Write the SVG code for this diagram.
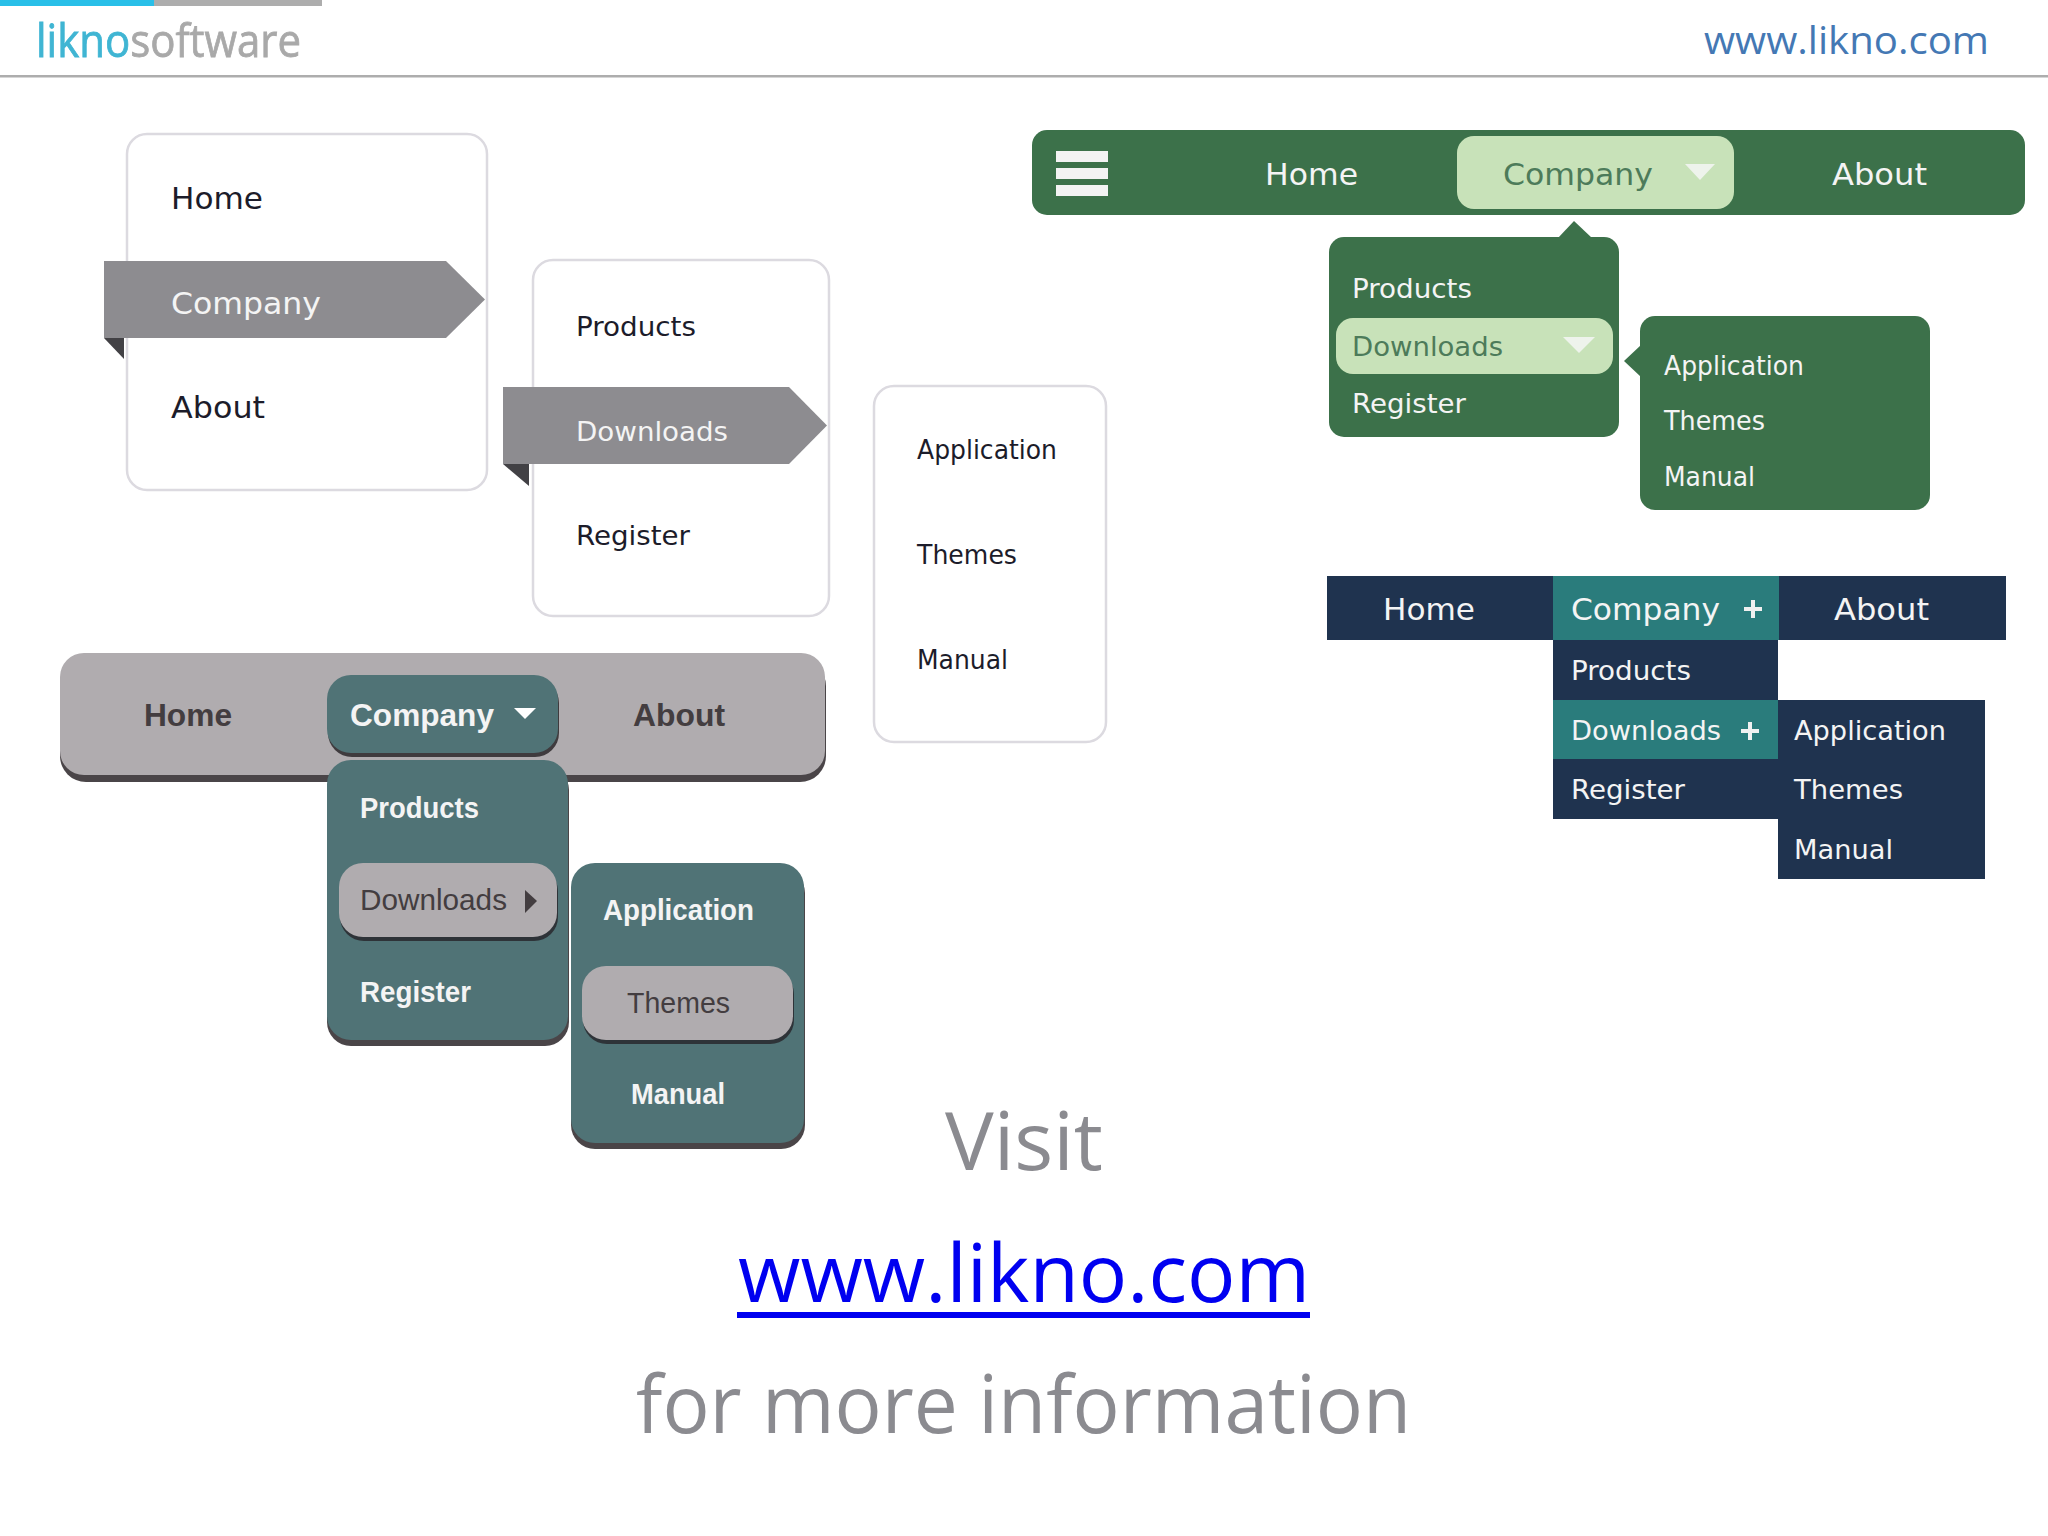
<svg xmlns="http://www.w3.org/2000/svg" width="2048" height="1536" viewBox="0 0 2048 1536">
<defs>
<style>
text{font-family:"DejaVu Sans",Verdana,sans-serif;font-size:30px}
.dk{fill:#1c1c2a}
.w{fill:#f4f4f4}
.s{font-size:27px}
.b{font-family:"Liberation Sans",Arial,sans-serif;font-weight:bold;font-size:32px}
.b2{font-family:"Liberation Sans",Arial,sans-serif;font-weight:bold;font-size:30px}
.g{fill:#433d40}
.gr{fill:#4d7b5a}
.card{fill:#fff;stroke:#dcdae0;stroke-width:2.5}
.big{font-family:"Open Sans","Noto Sans",sans-serif;font-size:80px;fill:#8b8b90}
</style>
<filter id="soft" x="-5%" y="-5%" width="110%" height="110%"><feGaussianBlur stdDeviation="0.6"/></filter>
</defs>
<rect width="2048" height="1536" fill="#fff"/>

<g id="header">
<rect x="0" y="0" width="322" height="6" fill="#adadad"/>
<rect x="0" y="0" width="154" height="6" fill="#29bfe8"/>
<rect x="0" y="75" width="2048" height="2.500" fill="#adadad"/>
<text x="36" y="57" style="font-family:'Open Sans','Noto Sans',sans-serif;font-size:46px;stroke-width:.8" textLength="265" lengthAdjust="spacingAndGlyphs" filter="url(#soft)"><tspan fill="#3fb5d3" stroke="#3fb5d3">likno</tspan><tspan fill="#a9a9a9" stroke="#a9a9a9">software</tspan></text>
<text x="1704" y="54" style="font-family:'Open Sans','Noto Sans',sans-serif;font-size:39px" fill="#4478b4" textLength="285" lengthAdjust="spacingAndGlyphs">www.likno.com</text>
</g>

<g id="menu-white-1">
<rect class="card" x="127" y="134" width="360" height="356" rx="20"/>
<text class="dk" x="171" y="209" textLength="92" lengthAdjust="spacingAndGlyphs">Home</text>
<polygon points="104,261 446,261 485,299.500 446,338 104,338" fill="#8d8c90"/>
<polygon points="104,338 124,338 124,359" fill="#424145"/>
<text class="w" x="171" y="314" textLength="150" lengthAdjust="spacingAndGlyphs">Company</text>
<text class="dk" x="171" y="418" textLength="94" lengthAdjust="spacingAndGlyphs">About</text>
</g>
<g id="menu-white-2">
<rect class="card" x="533" y="260" width="296" height="356" rx="20"/>
<text class="dk s" x="576" y="336" textLength="120" lengthAdjust="spacingAndGlyphs">Products</text>
<polygon points="503,387 789,387 827,425.500 789,464 503,464" fill="#8d8c90"/>
<polygon points="503,464 529,464 529,486" fill="#424145"/>
<text class="w s" x="576" y="441" textLength="152" lengthAdjust="spacingAndGlyphs">Downloads</text>
<text class="dk s" x="576" y="545" textLength="114" lengthAdjust="spacingAndGlyphs">Register</text>
</g>
<g id="menu-white-3">
<rect class="card" x="874" y="386" width="232" height="356" rx="20"/>
<text class="dk s" x="917" y="459" textLength="140" lengthAdjust="spacingAndGlyphs">Application</text>
<text class="dk s" x="917" y="564" textLength="100" lengthAdjust="spacingAndGlyphs">Themes</text>
<text class="dk s" x="917" y="669" textLength="91" lengthAdjust="spacingAndGlyphs">Manual</text>
</g>

<g id="menu-gray-bar">
<rect x="60" y="660" width="766" height="122" rx="26" fill="#4a4548"/>
<rect x="60" y="653" width="765" height="122" rx="24" fill="#b0acaf"/>
<text class="b g" x="144" y="726" textLength="88" lengthAdjust="spacingAndGlyphs">Home</text>
<rect x="328" y="679" width="231" height="78" rx="24" fill="#3f3b3e"/>
<rect x="327" y="675" width="231" height="78" rx="24" fill="#507376"/>
<text class="b w" x="350" y="726" textLength="144" lengthAdjust="spacingAndGlyphs">Company</text>
<polygon points="514,708 536,708 525,719" fill="#fff"/>
<text class="b g" x="633" y="726" textLength="92" lengthAdjust="spacingAndGlyphs">About</text>
</g>
<g id="menu-gray-2">
<rect x="327" y="766" width="242" height="280" rx="24" fill="#4a4548"/>
<rect x="327" y="760" width="241" height="280" rx="24" fill="#507376"/>
<text class="b2 w" x="360" y="818" textLength="119" lengthAdjust="spacingAndGlyphs">Products</text>
<rect x="340" y="867" width="218" height="74" rx="24" fill="#2e3338"/>
<rect x="339" y="863" width="218" height="74" rx="24" fill="#b0acaf"/>
<text class="b2 g" x="360" y="910" textLength="147" style="font-weight:normal" lengthAdjust="spacingAndGlyphs">Downloads</text>
<polygon points="525,890 537,901 525,913" fill="#433d40"/>
<text class="b2 w" x="360" y="1002" textLength="111" lengthAdjust="spacingAndGlyphs">Register</text>
</g>
<g id="menu-gray-3">
<rect x="571" y="869" width="234" height="280" rx="24" fill="#4a4548"/>
<rect x="571" y="863" width="233" height="280" rx="24" fill="#507376"/>
<text class="b2 w" x="603" y="920" textLength="151" lengthAdjust="spacingAndGlyphs">Application</text>
<rect x="583" y="970" width="211" height="74" rx="24" fill="#2e3338"/>
<rect x="582" y="966" width="211" height="74" rx="24" fill="#b0acaf"/>
<text class="b2 g" x="627" y="1013" textLength="103" style="font-weight:normal" lengthAdjust="spacingAndGlyphs">Themes</text>
<text class="b2 w" x="631" y="1104" textLength="94" lengthAdjust="spacingAndGlyphs">Manual</text>
</g>

<g id="menu-green-bar">
<rect x="1032" y="130" width="993" height="85" rx="15" fill="#3c714a"/>
<g fill="#f3f3f3"><rect x="1056" y="151" width="52" height="11"/><rect x="1056" y="168" width="52" height="11"/><rect x="1056" y="185" width="52" height="11"/></g>
<text class="w" x="1265" y="185" textLength="93" lengthAdjust="spacingAndGlyphs">Home</text>
<rect x="1457" y="136" width="277" height="73" rx="17" fill="#c8e2b9"/>
<text class="gr" x="1503" y="185" textLength="150" lengthAdjust="spacingAndGlyphs">Company</text>
<polygon points="1685,164 1715,164 1700,180" fill="#eef3ec"/>
<text class="w" x="1832" y="185" textLength="95" lengthAdjust="spacingAndGlyphs">About</text>
</g>
<g id="menu-green-2">
<rect x="1329" y="237" width="290" height="200" rx="15" fill="#3c714a"/>
<polygon points="1558,238 1574,221 1592,238" fill="#3c714a"/>
<text class="w s" x="1352" y="298" textLength="120" lengthAdjust="spacingAndGlyphs">Products</text>
<rect x="1336" y="318" width="277" height="56" rx="17" fill="#c8e2b9"/>
<text class="gr s" x="1352" y="356" textLength="151" lengthAdjust="spacingAndGlyphs">Downloads</text>
<polygon points="1563,337 1595,337 1579,353" fill="#eef3ec"/>
<text class="w s" x="1352" y="413" textLength="114" lengthAdjust="spacingAndGlyphs">Register</text>
</g>
<g id="menu-green-3">
<rect x="1640" y="316" width="290" height="194" rx="15" fill="#3c714a"/>
<polygon points="1641,345 1624,361 1641,377" fill="#3c714a"/>
<text class="w s" x="1664" y="375" textLength="140" lengthAdjust="spacingAndGlyphs">Application</text>
<text class="w s" x="1664" y="430" textLength="101" lengthAdjust="spacingAndGlyphs">Themes</text>
<text class="w s" x="1664" y="486" textLength="91" lengthAdjust="spacingAndGlyphs">Manual</text>
</g>

<g id="menu-navy-bar">
<rect x="1327" y="576" width="679" height="64" fill="#1f334f"/>
<rect x="1553" y="576" width="226" height="64" fill="#2a7c7c"/>
<text class="w" x="1383" y="620" textLength="92" lengthAdjust="spacingAndGlyphs">Home</text>
<text class="w" x="1571" y="620" textLength="149" lengthAdjust="spacingAndGlyphs">Company</text>
<text class="w" x="1834" y="620" textLength="95" lengthAdjust="spacingAndGlyphs">About</text>
<path d="M1744,609H1762M1753,600V618" stroke="#f0f0f0" stroke-width="4" fill="none"/>
</g>
<g id="menu-navy-2">
<rect x="1553" y="640" width="225" height="179" fill="#1f334f"/>
<rect x="1553" y="700" width="225" height="59" fill="#2a7c7c"/>
<text class="w s" x="1571" y="680" textLength="120" lengthAdjust="spacingAndGlyphs">Products</text>
<text class="w s" x="1571" y="740" textLength="150" lengthAdjust="spacingAndGlyphs">Downloads</text>
<path d="M1741,731H1759M1750,722V740" stroke="#f0f0f0" stroke-width="4" fill="none"/>
<text class="w s" x="1571" y="799" textLength="114" lengthAdjust="spacingAndGlyphs">Register</text>
</g>
<g id="menu-navy-3">
<rect x="1778" y="700" width="207" height="179" fill="#1f334f"/>
<text class="w s" x="1794" y="740" textLength="152" lengthAdjust="spacingAndGlyphs">Application</text>
<text class="w s" x="1794" y="799" textLength="109" lengthAdjust="spacingAndGlyphs">Themes</text>
<text class="w s" x="1794" y="859" textLength="99" lengthAdjust="spacingAndGlyphs">Manual</text>
</g>

<g id="footer">
<text class="big" x="945" y="1170" textLength="158" lengthAdjust="spacingAndGlyphs">Visit</text>
<text class="big" x="738" y="1302" style="fill:#0000f0" textLength="572" lengthAdjust="spacingAndGlyphs">www.likno.com</text>
<rect x="737" y="1312" width="573" height="6" fill="#0000f0"/>
<text class="big" x="636" y="1433" textLength="775" lengthAdjust="spacingAndGlyphs">for more information</text>
</g>
</svg>
